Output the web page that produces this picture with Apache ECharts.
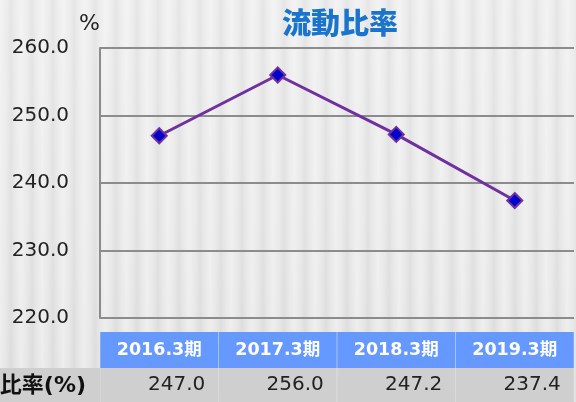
<!DOCTYPE html>
<html>
<head>
<meta charset="utf-8">
<script src="https://cdn.jsdelivr.net/npm/echarts@6/dist/echarts.min.js"></script>
<style>
html,body{margin:0;padding:0;}
body{width:576px;height:402px;overflow:hidden;
background:
repeating-linear-gradient(90deg, rgba(255,255,255,0.4) 0px, rgba(255,255,255,0.15) 6px, rgba(0,0,0,0.025) 11px, rgba(255,255,255,0.15) 16px, rgba(255,255,255,0.4) 21px),
linear-gradient(180deg,#ebebeb 0%,#e6e6e6 60%,#e1e1e1 100%);}
#c{width:576px;height:402px;}
</style>
</head>
<body>
<div id="c"></div>
<script>
var title = '流動比率';
var categories = ['2016.3期','2017.3期','2018.3期','2019.3期'];
var ratioValues = [247.0, 256.0, 247.2, 237.4];
var rowLabel = '比率(%)';
var yUnit = '%';
var yMin = 220, yMax = 260, yStep = 10;

var font = '"DejaVu Sans","Noto Sans CJK JP",sans-serif';
var chart = echarts.init(document.getElementById('c'), null, {renderer:'canvas'});
chart.setOption({
  backgroundColor: 'transparent',
  animation: false,
  title: {
    text: title, left: 335, top: 3, textAlign: 'center',
    textStyle: {color:'#1874CD', fontSize:29, fontWeight:900, fontFamily:'"Noto Sans CJK JP",sans-serif'}
  },
  grid: {left:100, right:-4, top:48, bottom:84},
  xAxis: [{
    type:'category', data: categories, position:'bottom',
    axisLine:{show:false}, axisTick:{show:false}, splitLine:{show:false},
    axisLabel:{
      margin:14, interval:0,
      formatter: function(v){ return '{h|' + v + '}'; },
      rich:{h:{width:118,height:36,lineHeight:36,align:'center',backgroundColor:'#6699FF',
        color:'#ffffff',fontWeight:'bold',fontSize:17.5,fontFamily:font}}
    }
  },{
    type:'category', data: categories, position:'bottom', offset:36,
    axisLine:{show:false}, axisTick:{show:false}, splitLine:{show:false},
    axisLabel:{
      margin:14, interval:0,
      formatter: function(v, i){ return '{v|' + ratioValues[i].toFixed(1) + '}'; },
      rich:{v:{width:105,height:34,lineHeight:34,align:'right',padding:[0,13,0,0],backgroundColor:'#CFCFCF',
        color:'#222222',fontSize:20,fontFamily:font}}
    }
  }],
  yAxis: {
    type:'value', min:yMin, max:yMax, interval:yStep,
    name: yUnit, nameLocation:'end', nameGap:13,
    nameTextStyle:{fontSize:22, color:'#222', align:'right', fontFamily:font},
    axisLine:{show:true, lineStyle:{color:'#8c8c8c', width:2}},
    axisTick:{show:false},
    splitLine:{show:true, lineStyle:{color:'#8c8c8c', width:2}},
    axisLabel:{margin:31, fontSize:20, color:'#222', fontFamily:font, padding:[0,0,6,0],
      formatter:function(v){return v.toFixed(1);}}
  },
  graphic:[
    {type:'rect', left:0, top:368, shape:{width:100,height:34}, style:{fill:'#CFCFCF'}, z:-1},
    {type:'text', x:86, y:386, style:{text:rowLabel, textAlign:'right', textVerticalAlign:'middle',
      font:'bold 22px "DejaVu Sans","Noto Sans CJK JP",sans-serif', fill:'#111'}}
  ],
  series:[{
    type:'line', data: ratioValues, xAxisIndex:0,
    lineStyle:{color:'#7030A0', width:3},
    symbol:'diamond', symbolSize:15,
    itemStyle:{color:'#0000CC', borderColor:'#7030A0', borderWidth:2}
  }]
});
</script>
</body>
</html>
